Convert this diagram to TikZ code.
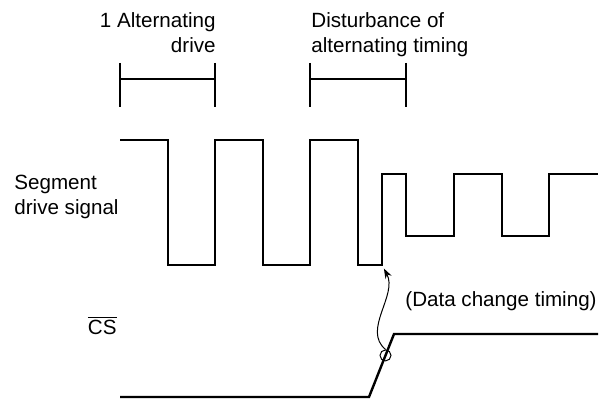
\documentclass[tikz,border=0pt]{standalone}
\usepackage{fontspec}
\setmainfont{Liberation Sans}
\usetikzlibrary{arrows.meta, calc}

\begin{document}
\begin{tikzpicture}[x=0.5pt, y=0.5pt,
  txt/.style={inner sep=0pt, font=\fontsize{10.3}{12.5}\selectfont},
  wave/.style={line width=1.2pt},
  ring/.style={draw, circle, line width=0.5pt, inner sep=0pt, minimum size=5.5pt}]
\useasboundingbox (0,0) rectangle (599,400);

\node[txt, align=right, anchor=north east](alt_drive) at (216,388){1 Alternating\\drive};
\node[txt, align=left, anchor=north west](disturb) at (311,388){Disturbance of\\alternating timing};
\node[txt, align=left, anchor=north west](seg_label) at (14,225){Segment\\drive signal};
\node[txt, anchor=base east](cs_label) at (117,65){$\overline{\mbox{CS}}$};
\node[txt, anchor=base west](change) at (405,93){(Data change timing)};

\foreach \a/\b in {120/215, 310/406}{
  \draw[wave](\a,337) -- (\a,293);
  \draw[wave](\a,321) -- (\b,321);
  \draw[wave](\b,337) -- (\b,293);
}

\coordinate (seg_edge) at (382,135);
\draw[wave](120,260) -- (168,260) -- (168,135) -- (215,135) -- (215,260) -- (263,260)
  -- (263,135) -- (310,135) -- (310,260) -- (358,260) -- (358,135) -- (seg_edge)
  -- (382,226) -- (406,226) -- (406,164) -- (454,164) -- (454,226) -- (502,226)
  -- (502,164) -- (549,164) -- (549,226) -- (598,226);

\coordinate (cs_low) at (369,3);
\coordinate (cs_high) at (394,66);
\draw[wave](120,3) -- (cs_low) -- (cs_high) -- (598,66);
\node[ring](cs_mark) at ($(cs_low)!0.66!(cs_high)$){};

\draw[-{Stealth[length=5pt, width=3.5pt]}, line width=0.5pt, shorten >=2pt]
  (cs_mark.north) .. controls (362,70) and (398,105) .. (seg_edge);

\end{tikzpicture}
\end{document}
